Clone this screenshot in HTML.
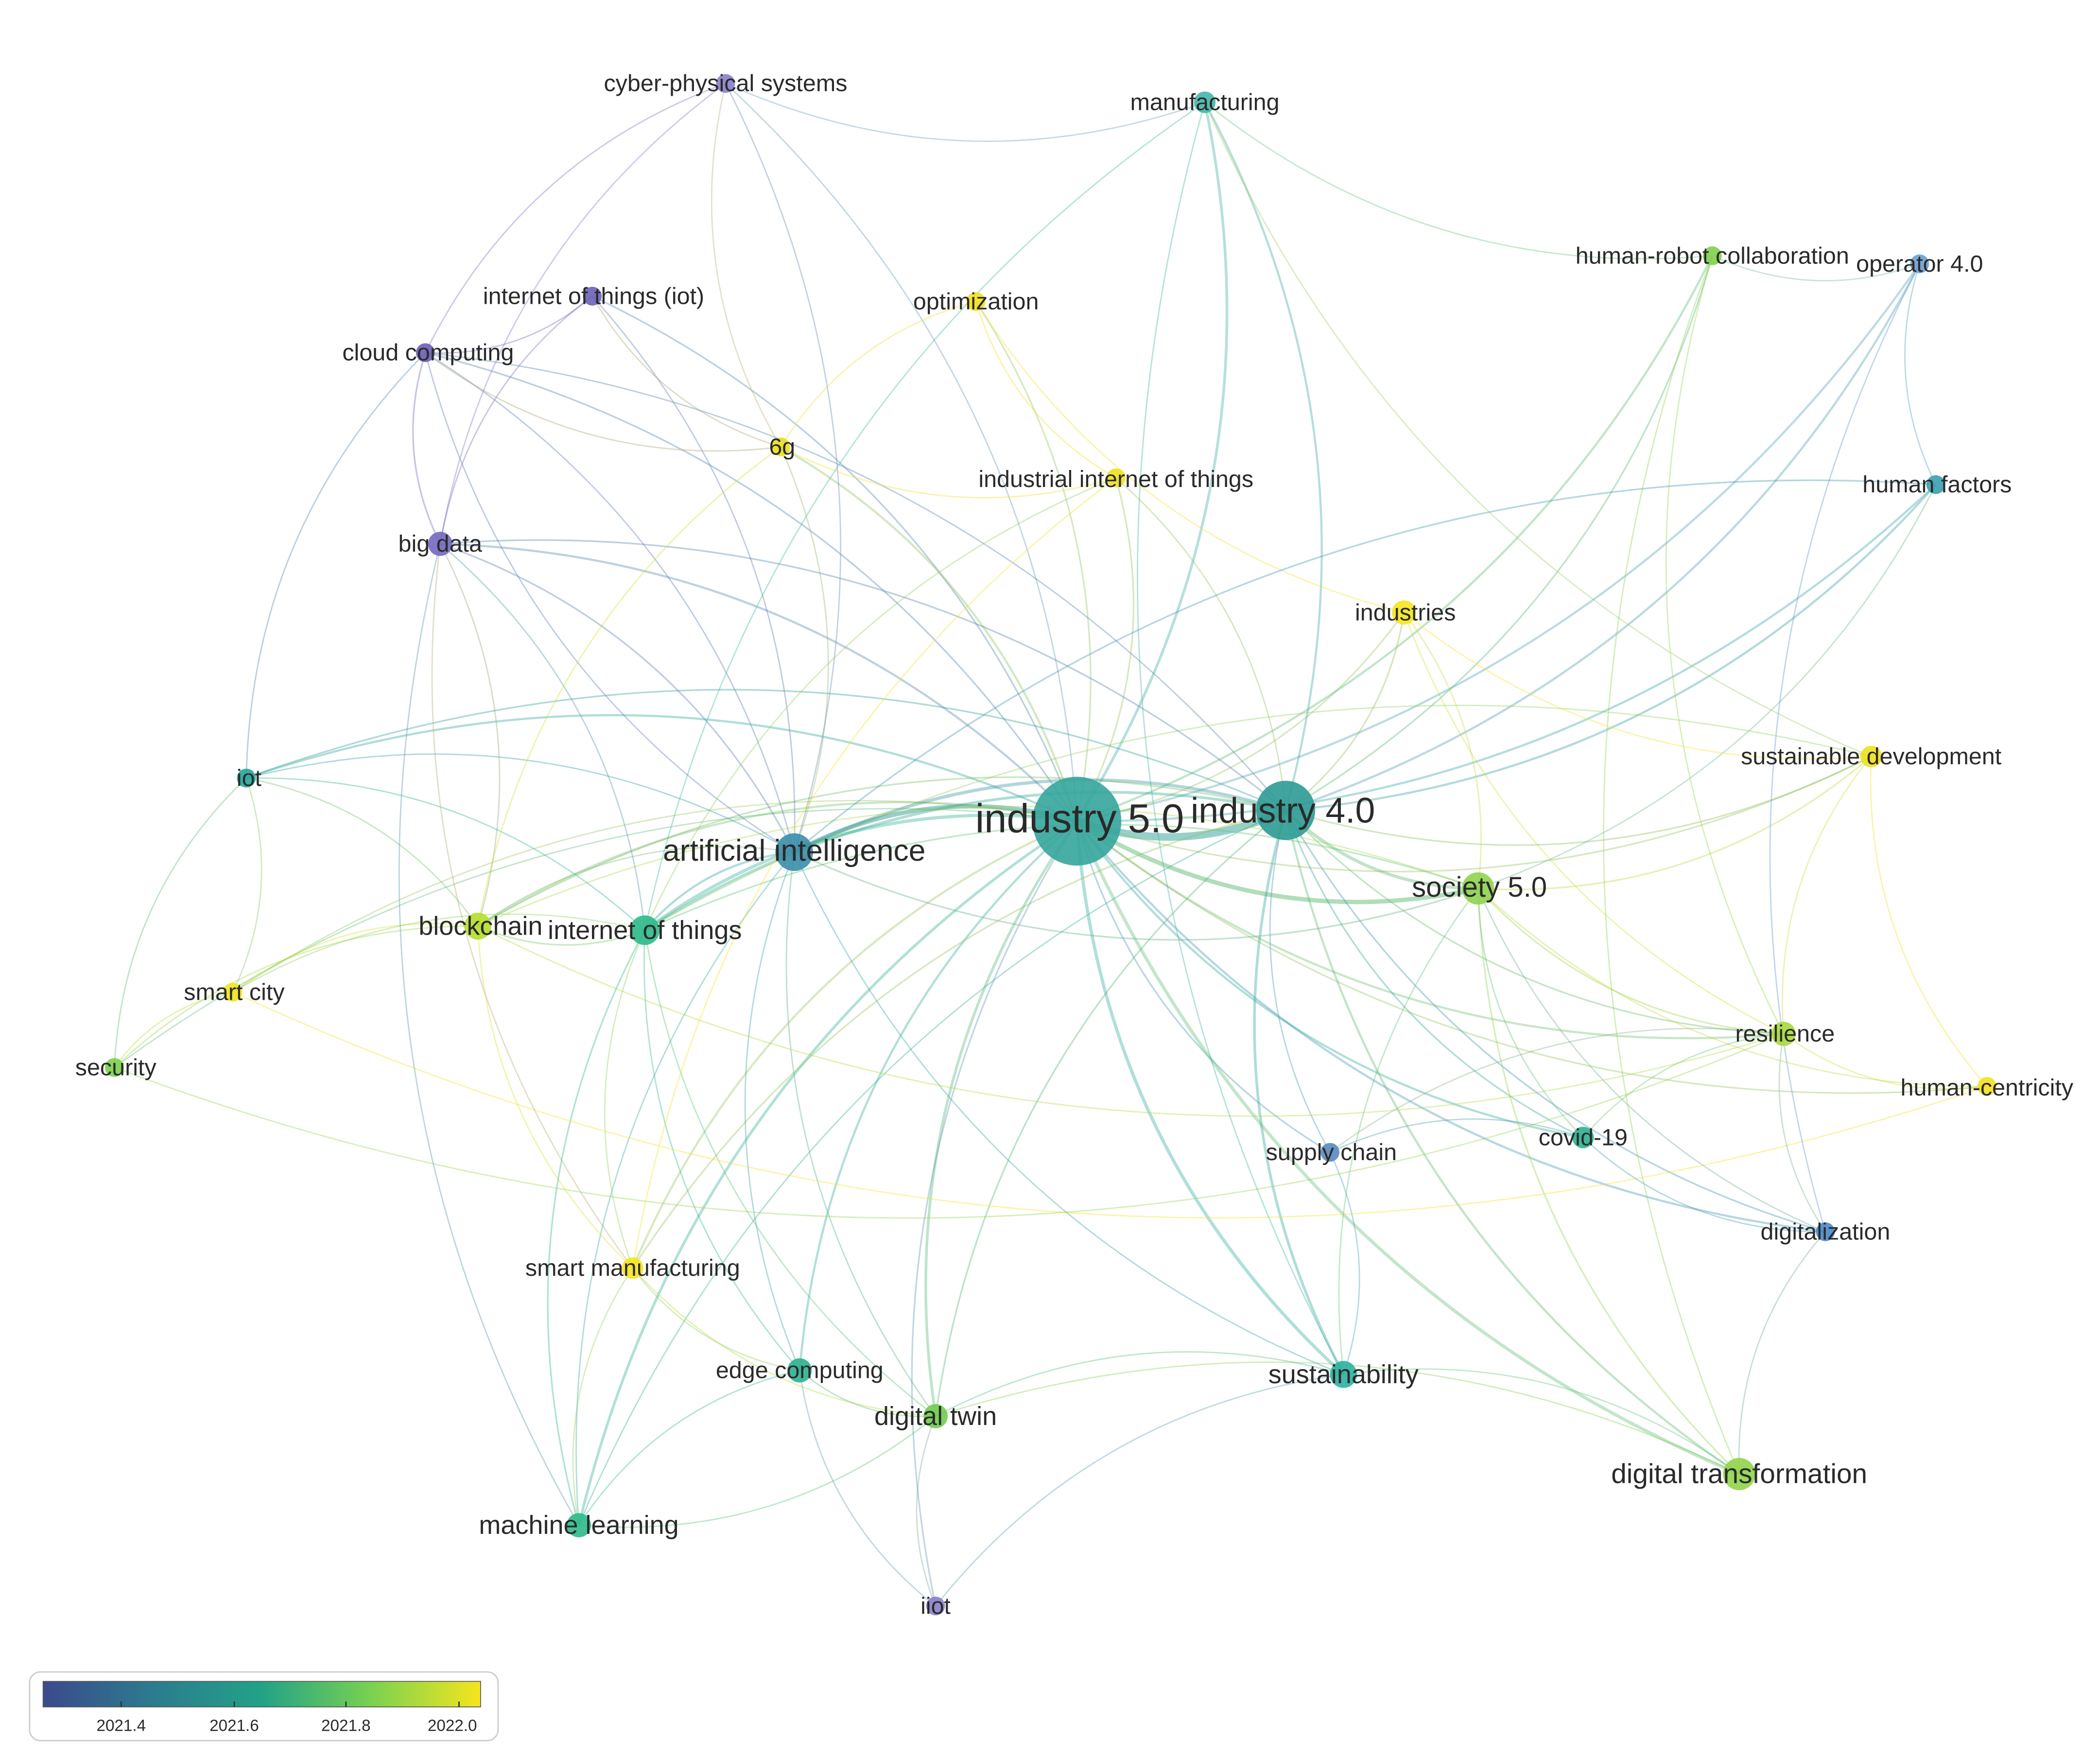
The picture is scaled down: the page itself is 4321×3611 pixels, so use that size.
<!DOCTYPE html>
<html><head><meta charset="utf-8">
<style>
html,body{margin:0;padding:0;background:#fff;}
svg{display:block;}
text{font-family:"Liberation Sans","DejaVu Sans",sans-serif;fill:#2a2a2a;text-anchor:middle;dominant-baseline:central;}
</style></head>
<body>
<svg id="s" width="4321" height="3611" viewBox="0 0 1560 1303.7" preserveAspectRatio="none" xmlns="http://www.w3.org/2000/svg">
<defs>
<linearGradient id="vir" x1="0" x2="1" y1="0" y2="0">
<stop offset="0" stop-color="#3b4a8c"/>
<stop offset="0.25" stop-color="#2c7b8e"/>
<stop offset="0.5" stop-color="#22a287"/>
<stop offset="0.75" stop-color="#7ad151"/>
<stop offset="1" stop-color="#f5e51e"/>
</linearGradient>
</defs>
<g id="edges" fill="none"></g>
<g id="nodes"></g>
<g id="labels">
<text x="802" y="608" font-size="30">industry 5.0</text>
<text x="953" y="602" font-size="26.5">industry 4.0</text>
<text x="590" y="632" font-size="22.5">artificial intelligence</text>
<text x="1099" y="659" font-size="21">society 5.0</text>
<text x="357" y="688" font-size="19.5">blockchain</text>
<text x="479" y="691" font-size="19.5">internet of things</text>
<text x="174" y="737" font-size="17.5">smart city</text>
<text x="86" y="793" font-size="17.5">security</text>
<text x="185" y="578" font-size="17.5">iot</text>
<text x="327" y="404" font-size="17.5">big data</text>
<text x="318" y="262" font-size="17.5">cloud computing</text>
<text x="441" y="220" font-size="17.5">internet of things (iot)</text>
<text x="539" y="62" font-size="17.5">cyber-physical systems</text>
<text x="895" y="76" font-size="17.5">manufacturing</text>
<text x="725" y="224" font-size="17.5">optimization</text>
<text x="581" y="332" font-size="17.5">6g</text>
<text x="829" y="356" font-size="17.5">industrial internet of things</text>
<text x="1044" y="455" font-size="17.5">industries</text>
<text x="1272" y="190" font-size="17.5">human-robot collaboration</text>
<text x="1426" y="196" font-size="17.5">operator 4.0</text>
<text x="1439" y="360" font-size="17.5">human factors</text>
<text x="1390" y="562" font-size="17.5">sustainable development</text>
<text x="1326" y="768" font-size="17.5">resilience</text>
<text x="1476" y="808" font-size="17.5">human-centricity</text>
<text x="1176" y="845" font-size="17.5">covid-19</text>
<text x="989" y="856" font-size="17.5">supply chain</text>
<text x="1356" y="915" font-size="17.5">digitalization</text>
<text x="470" y="942" font-size="17.5">smart manufacturing</text>
<text x="594" y="1018" font-size="17.5">edge computing</text>
<text x="695" y="1052" font-size="19.5">digital twin</text>
<text x="998" y="1021" font-size="19.5">sustainability</text>
<text x="1292" y="1095" font-size="20.5">digital transformation</text>
<text x="430" y="1133" font-size="19.5">machine learning</text>
<text x="695" y="1193" font-size="17.5">iiot</text>
</g>
<g id="legend">
<rect x="22" y="1242" width="348" height="51" rx="8" fill="#fff" stroke="#ccc" stroke-width="1"/>
<rect x="32" y="1249" width="325" height="19" fill="url(#vir)" stroke="#555" stroke-width="0.6"/>
<line x1="90" y1="1264" x2="90" y2="1268" stroke="#333"/>
<line x1="174" y1="1264" x2="174" y2="1268" stroke="#333"/>
<line x1="257" y1="1264" x2="257" y2="1268" stroke="#333"/>
<line x1="341" y1="1264" x2="341" y2="1268" stroke="#333"/>
<text x="90" y="1282" font-size="12" fill="#444">2021.4</text>
<text x="174" y="1282" font-size="12" fill="#444">2021.6</text>
<text x="257" y="1282" font-size="12" fill="#444">2021.8</text>
<text x="336" y="1282" font-size="12" fill="#444">2022.0</text>
</g>
</svg>
<script>
var N={
i5:[800,610,33,"#35a59c"],i4:[955,602,22,"#2e9a93"],ai:[590,633,14,"#3b8dab"],s5:[1098,660,12,"#8fd14f"],
bc:[355,688,10,"#b5de2b"],iot2:[479,691,11,"#2cb98a"],sc:[173,737,7,"#f0e41e"],sec:[85,793,7,"#7ccf4a"],
iot:[183,578,7,"#25a59a"],bd:[327,404,9,"#7468c0"],cc:[316,262,7,"#6a5fb5"],iotp:[440,220,7,"#6b62b8"],
cps:[539,62,7,"#8a80c8"],mf:[895,76,8,"#45b5a8"],opt:[725,224,7,"#f0e020"],g6:[580,332,7,"#e8e020"],
iiotf:[829,355,7,"#f0e01e"],ind:[1043,455,9,"#f5e61e"],hrc:[1272,190,7,"#7fd04a"],op4:[1426,196,7,"#6a9ed0"],
hf:[1438,360,7,"#3aa0b0"],sd:[1390,562,8,"#f0e020"],res:[1325,768,9,"#a8d840"],hc:[1476,807,7,"#f3e01e"],
cov:[1176,845,8,"#2cb08f"],sup:[988,856,7,"#5a88c0"],dig:[1356,915,7,"#4a88c8"],sm:[470,942,8,"#f5e61e"],
ec:[594,1018,9,"#2cb08f"],dt:[695,1052,9,"#70cc50"],sus:[998,1021,10,"#2cb0a0"],dtr:[1292,1095,12,"#90d44a"],
ml:[430,1133,9,"#2cba8a"],iiot:[695,1193,7,"#8a80c8"]};
var E=[
["i5","i4",7],["i5","ai",4],["i5","s5",4],["i5","iot2",3],["i5","bc",2],["i5","sc",1],["i5","sec",1],["i5","iot",2],
["i5","bd",2],["i5","cc",1.5],["i5","iotp",1.5],["i5","cps",1],["i5","mf",2.5],["i5","opt",1.5],["i5","g6",2],
["i5","iiotf",1.5],["i5","ind",1.5],["i5","hrc",2],["i5","op4",2],["i5","hf",2],["i5","sd",1.5],["i5","res",2],
["i5","hc",1.5],["i5","cov",2],["i5","sup",1.5],["i5","dig",2],["i5","sm",2],["i5","ec",2],["i5","dt",2.5],
["i5","sus",3],["i5","dtr",3],["i5","ml",2.5],["i5","iiot",1.5],
["i4","ai",3],["i4","s5",3],["i4","iot2",2.5],["i4","bc",1.5],["i4","mf",2],["i4","hf",2],["i4","op4",2],
["i4","sus",2.5],["i4","dtr",2],["i4","cov",1.5],["i4","dig",1.5],["i4","res",1.5],["i4","sd",1.5],["i4","ind",1.5],
["i4","sm",1.5],["i4","dt",1.5],["i4","iot",1.5],["i4","bd",1.5],["i4","cc",1.2],["i4","sup",1.2],["i4","hrc",1.5],
["i4","iiotf",1.2],["i4","ml",1.2],
["ai","iot2",2],["ai","bd",1.5],["ai","cc",1.2],["ai","bc",1.2],["ai","ml",1.2],["ai","ec",1.2],["ai","g6",1.2],
["ai","s5",1.5],["ai","sus",1.2],["ai","iot",1.2],["ai","dt",1.2],["ai","iotp",1],["ai","cps",1],
["s5","sd",1.5],["s5","res",1.5],["s5","dtr",1.5],["s5","sus",1.2],["s5","cov",1.2],["s5","ind",1.2],["s5","hc",1.2],
["s5","iot2",1.5],["s5","bc",1.2],["s5","dig",1.2],["s5","hf",1],
["bc","iot2",1.5],["bc","sc",1.2],["bc","sec",1],["bc","sm",1],["bc","bd",1],["bc","iot",1],["bc","res",1],
["iot2","iot",1.2],["iot2","sm",1],["iot2","ec",1.2],["iot2","ml",1.5],["iot2","bd",1],["iot2","dt",1],["iot2","sc",1],
["sc","sec",1],["sc","iot",1],["sc","hc",1],["sec","res",1.2],
["cc","bd",1.5],["cc","iotp",1],["cc","iot",1],["cc","g6",1],["cc","ai",1],["cps","cc",1],["cps","bd",1],["cps","mf",1],["cps","g6",1],
["iotp","bd",1],["iotp","g6",1],["opt","iiotf",1],["opt","ind",1],["opt","g6",1],["g6","iiotf",1],["g6","bc",1],
["hrc","op4",1],["hrc","dtr",1],["hrc","res",1],["op4","hf",1],["op4","dig",1],["hf","ai",1.5],
["sd","hc",1],["sd","res",1],["sd","iot2",1],["res","hc",1],["res","dig",1],["res","cov",1],["res","sup",1],
["cov","sup",1],["cov","dig",1],["dig","dtr",1],["dtr","sus",1],["dtr","dt",1],["sus","dt",1.2],["sus","iiot",1],["sus","sup",1],
["sm","ec",1],["sm","dt",1],["sm","ml",1],["ec","dt",1],["ec","ml",1],["ec","iiot",1.2],["dt","iiot",1],["ml","dt",1],
["mf","sus",1],["mf","hrc",1],["mf","sd",1],["mf","iot2",1],["ind","sd",1],["ind","res",1],["iiotf","iot2",1],["iiotf","sm",1],
["bd","ml",1],["bd","sm",1],["iot","sec",1]
];
function mix(a,b){var x=parseInt(a.slice(1),16),y=parseInt(b.slice(1),16);
var r=((x>>16)+(y>>16))>>1,g=(((x>>8)&255)+((y>>8)&255))>>1,bb=((x&255)+(y&255))>>1;
return "rgb("+r+","+g+","+bb+")";}
var ns="http://www.w3.org/2000/svg",eg=document.getElementById("edges"),ng=document.getElementById("nodes");
E.forEach(function(e){var a=N[e[0]],b=N[e[1]];var dx=b[0]-a[0],dy=b[1]-a[1];
var mx=(a[0]+b[0])/2-dy*0.2,my=(a[1]+b[1])/2+dx*0.2;
var p=document.createElementNS(ns,"path");
p.setAttribute("d","M"+a[0]+" "+a[1]+"Q"+mx+" "+my+" "+b[0]+" "+b[1]);
p.setAttribute("stroke",mix(a[3],b[3]));p.setAttribute("stroke-width",Math.max(1,e[2]*0.8));
p.setAttribute("stroke-opacity",e[2]>3?0.5:0.38);eg.appendChild(p);});
for(var k in N){var n=N[k];var c=document.createElementNS(ns,"circle");
c.setAttribute("cx",n[0]);c.setAttribute("cy",n[1]);c.setAttribute("r",n[2]);c.setAttribute("fill",n[3]);c.setAttribute("fill-opacity",0.9);ng.appendChild(c);}
</script>
</body></html>
